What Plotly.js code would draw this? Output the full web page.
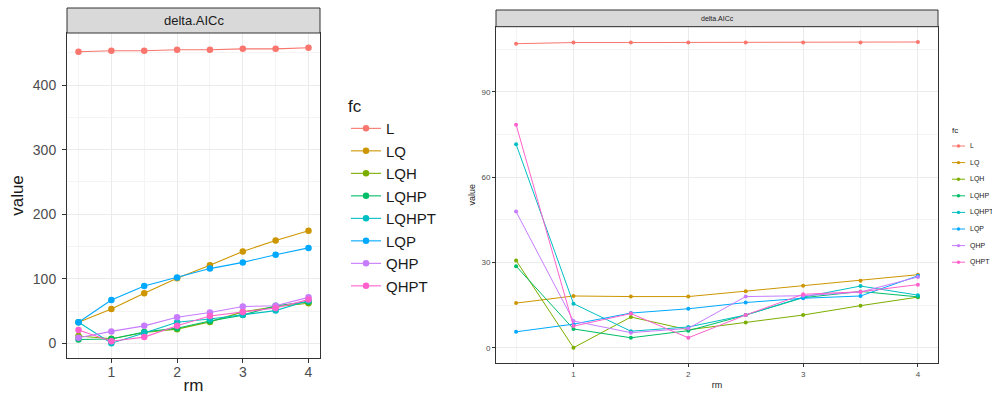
<!DOCTYPE html>
<html>
<head>
<meta charset="utf-8">
<script src="https://cdn.plot.ly/plotly-3.0.1.min.js"></script>
<style>html,body{margin:0;padding:0;background:#fff;}#chart{width:992px;height:398px;}</style>
</head>
<body>
<div id="chart"></div>
<script>
// x values (rm)
const rm = [0.5, 1, 1.5, 2, 2.5, 3, 3.5, 4];
const fcNames = ['L', 'LQ', 'LQH', 'LQHP', 'LQHPT', 'LQP', 'QHP', 'QHPT'];
const fcColors = ['#F8766D', '#CD9600', '#7CAE00', '#00BE67', '#00BFC4', '#00A9FF', '#C77CFF', '#FF61CC'];

// Left panel: delta.AICc
const leftL     = [451.5, 453, 453, 454.6, 454.6, 456, 456, 457.7];
const leftLQ    = [33, 53.5, 78, 101, 121, 142.6, 159.6, 174.5];
const leftLQH   = [11.7, 7.5, 17, 22.3, 33.5, 49, 57, 62.4];
const leftLQHP  = [6.2, 7, 17.8, 23.8, 35, 44, 58.4, 64.5];
const leftLQHPT = [33, 0.5, 16.2, 33, 38, 44.5, 51, 66.5];
const leftLQP   = [33, 67.4, 89, 102.4, 116, 125.6, 137.5, 148];
const leftQHP   = [9, 18.8, 27.4, 40.6, 48, 57.4, 58.4, 71.5];
const leftQHPT  = [21, 3.5, 10, 27.4, 42.6, 49, 55, 68];

// Right panel: delta.AICc
const rightL     = [107.0, 107.4, 107.4, 107.4, 107.4, 107.4, 107.4, 107.6];
const rightLQ    = [15.7, 18.2, 18.0, 18.0, 19.9, 21.8, 23.6, 25.7];
const rightLQH   = [30.7, 0, 10.8, 6.3, 8.9, 11.5, 14.8, 17.8];
const rightLQHP  = [28.7, 6.6, 3.5, 6.0, 11.5, 17.6, 19.8, 17.9];
const rightLQHPT = [71.6, 15.5, 5.8, 7.3, 11.5, 17.8, 21.7, 18.5];
const rightLQP   = [5.6, 8.3, 12.2, 13.7, 15.9, 17.4, 18.2, 25.3];
const rightQHP   = [47.9, 9.4, 5.3, 6.8, 18.0, 18.3, 19.6, 24.9];
const rightQHPT  = [78.5, 7.6, 12.0, 3.5, 11.5, 18.8, 19.7, 22.2];

const stripTitle = 'delta.AICc';
const xTitle = 'rm';
const yTitle = 'value';
const legendTitle = 'fc';

const leftSeries = [leftL, leftLQ, leftLQH, leftLQHP, leftLQHPT, leftLQP, leftQHP, leftQHPT];
const rightSeries = [rightL, rightLQ, rightLQH, rightLQHP, rightLQHPT, rightLQP, rightQHP, rightQHPT];

const W = 992, H = 398;
const FONT = 'Liberation Sans, Arial, sans-serif';

const traces = [];
leftSeries.forEach((ys, i) => {
  traces.push({
    x: rm, y: ys, name: fcNames[i], type: 'scatter', mode: 'lines+markers',
    xaxis: 'x', yaxis: 'y', legend: 'legend',
    line: {color: fcColors[i], width: 1.1},
    marker: {color: fcColors[i], size: 6.5}
  });
});
rightSeries.forEach((ys, i) => {
  traces.push({
    x: rm, y: ys, name: fcNames[i], type: 'scatter', mode: 'lines+markers',
    xaxis: 'x2', yaxis: 'y2', showlegend: false,
    line: {color: fcColors[i], width: 1},
    marker: {color: fcColors[i], size: 4}
  });
});

function expand(arrs) {
  let mn = Infinity, mx = -Infinity;
  arrs.forEach(a => a.forEach(v => { mn = Math.min(mn, v); mx = Math.max(mx, v); }));
  const d = (mx - mn) * 0.05;
  return [mn - d, mx + d];
}
const xr = expand([rm]);

// pixel geometry -> paper fractions
const px = v => v / W, py = v => 1 - v / H;
const L = {x0: 67, x1: 320, yTop: 33, yBot: 358, sTop: 8};
const R = {x0: 496, x1: 938, yTop: 26.7, yBot: 363, sTop: 10};

const axBase = {
  showline: true, linecolor: '#333333', linewidth: 1, mirror: true,
  ticks: 'outside', tickcolor: '#333333', ticklen: 4, tickwidth: 1,
  showgrid: true, gridcolor: '#EBEBEB', gridwidth: 1,
  zeroline: false, automargin: false
};

const shapes = [
  {type: 'rect', xref: 'paper', yref: 'paper', x0: px(L.x0), x1: px(L.x1), y0: py(L.yTop), y1: py(L.sTop),
   fillcolor: '#D9D9D9', line: {color: '#333333', width: 1}, layer: 'above'},
  {type: 'rect', xref: 'paper', yref: 'paper', x0: px(R.x0), x1: px(R.x1), y0: py(R.yTop), y1: py(R.sTop),
   fillcolor: '#D9D9D9', line: {color: '#333333', width: 1}, layer: 'above'}
];
const annotations = [
  {text: stripTitle, xref: 'paper', yref: 'paper', x: px((L.x0 + L.x1) / 2), y: py((L.yTop + L.sTop) / 2),
   showarrow: false, xanchor: 'center', yanchor: 'middle', font: {size: 13, color: '#1A1A1A', family: FONT}},
  {text: stripTitle, xref: 'paper', yref: 'paper', x: px((R.x0 + R.x1) / 2), y: py((R.yTop + R.sTop) / 2),
   showarrow: false, xanchor: 'center', yanchor: 'middle', font: {size: 7, color: '#1A1A1A', family: FONT}},
  {text: legendTitle, xref: 'paper', yref: 'paper', x: px(950), y: py(131),
   showarrow: false, xanchor: 'left', yanchor: 'middle', font: {size: 8, color: '#1A1A1A', family: FONT}}
];
// compact key for the right-hand panel (ggplot-style small legend)
fcNames.forEach((name, i) => {
  const yy = 146 + 16.6 * i;
  shapes.push({type: 'line', xref: 'paper', yref: 'paper', x0: px(952), x1: px(965), y0: py(yy), y1: py(yy),
               line: {color: fcColors[i], width: 1}});
  shapes.push({type: 'circle', xref: 'paper', yref: 'paper', x0: px(956.8), x1: px(960.2), y0: py(yy + 1.7), y1: py(yy - 1.7),
               fillcolor: fcColors[i], line: {color: fcColors[i], width: 0}});
  annotations.push({text: name, xref: 'paper', yref: 'paper', x: px(968), y: py(yy),
                    showarrow: false, xanchor: 'left', yanchor: 'middle', font: {size: 7, color: '#1A1A1A', family: FONT}});
});

const layout = {
  width: W, height: H,
  margin: {l: 0, r: 0, t: 0, b: 0, autoexpand: false},
  paper_bgcolor: '#ffffff', plot_bgcolor: '#ffffff',
  font: {family: FONT, color: '#1A1A1A'},
  showlegend: true,
  xaxis: Object.assign({}, axBase, {
    domain: [px(L.x0), px(L.x1)], range: xr, anchor: 'y',
    tick0: 0, dtick: 1, ticklabelstandoff: -3,
    minor: {tick0: 0, dtick: 0.5, showgrid: true, gridcolor: '#F4F4F4', ticks: ''},
    tickfont: {size: 14, color: '#4D4D4D', family: FONT},
    title: {text: xTitle, font: {size: 17, color: '#1A1A1A', family: FONT}, standoff: 0}
  }),
  yaxis: Object.assign({}, axBase, {
    domain: [py(L.yBot), py(L.yTop)], range: expand(leftSeries), anchor: 'x',
    tick0: 0, dtick: 100, ticklabelstandoff: 3,
    minor: {tick0: 0, dtick: 50, showgrid: true, gridcolor: '#F4F4F4', ticks: ''},
    tickfont: {size: 14, color: '#4D4D4D', family: FONT},
    title: {text: yTitle, font: {size: 17, color: '#1A1A1A', family: FONT}, standoff: 4}
  }),
  xaxis2: Object.assign({}, axBase, {
    domain: [px(R.x0), px(R.x1)], range: xr, anchor: 'y2',
    tick0: 0, dtick: 1, ticklen: 3,
    minor: {tick0: 0, dtick: 0.5, showgrid: true, gridcolor: '#F4F4F4', ticks: ''},
    tickfont: {size: 8, color: '#4D4D4D', family: FONT},
    title: {text: xTitle, font: {size: 9, color: '#1A1A1A', family: FONT}, standoff: 4}
  }),
  yaxis2: Object.assign({}, axBase, {
    domain: [py(R.yBot), py(R.yTop)], range: expand(rightSeries), anchor: 'x2',
    tick0: 0, dtick: 30, ticklen: 3,
    minor: {tick0: 0, dtick: 15, showgrid: true, gridcolor: '#F4F4F4', ticks: ''},
    tickfont: {size: 8, color: '#4D4D4D', family: FONT},
    title: {text: yTitle, font: {size: 9, color: '#1A1A1A', family: FONT}, standoff: 4}
  }),
  legend: {
    x: px(346), y: py(90), xanchor: 'left', yanchor: 'top',
    bgcolor: 'rgba(0,0,0,0)', borderwidth: 0,
    font: {size: 15, color: '#1A1A1A', family: FONT},
    title: {text: legendTitle, font: {size: 17, color: '#1A1A1A', family: FONT}},
    itemclick: false
  },
  shapes: shapes,
  annotations: annotations
};

Plotly.newPlot('chart', traces, layout, {displayModeBar: false, staticPlot: true});
</script>
</body>
</html>
